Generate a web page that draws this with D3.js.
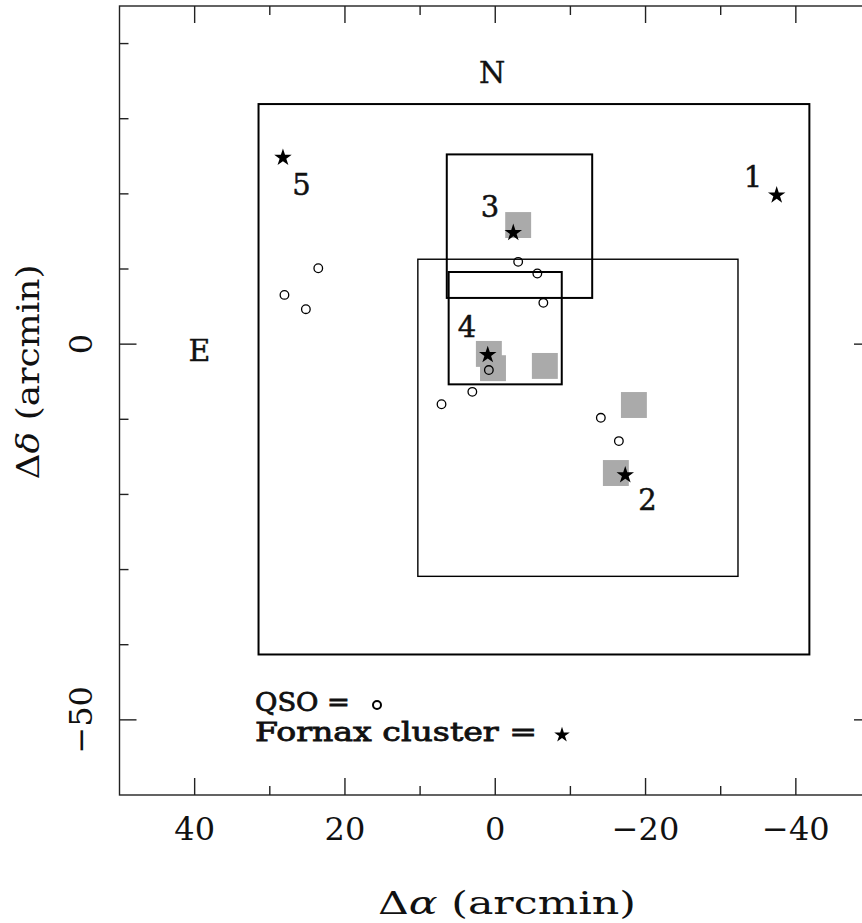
<!DOCTYPE html>
<html>
<head>
<meta charset="utf-8">
<script src="https://cdn.jsdelivr.net/npm/d3@7"></script>
<style>
  html, body { margin: 0; padding: 0; background: #fff; }
  svg { display: block; }
  text { font-family: "DejaVu Serif", "Liberation Serif", serif; fill: #111; }
</style>
</head>
<body>
<svg id="chart" width="862" height="923"></svg>
<script>
// Field layout around the Fornax cluster, offsets in arcmin (RA increases to the left)
const xDomain = [50, -50];
const yDomain = [-60, 45];

// Survey fields: [left RA, right RA, top Dec, bottom Dec], width of outline
const fieldNames = ["outer", "middle", "field3", "field4"];
const fieldX0 = [31.5, 10.3, 6.45, 6.2];
const fieldX1 = [-41.8, -32.3, -12.9, -8.85];
const fieldY0 = [31.95, 11.3, 25.25, 9.6];
const fieldY1 = [-41.3, -30.9, 6.15, -5.35];
const fieldWeight = [2, 1.4, 2, 2];

// Fornax cluster galaxies (stars) and their labels
const galaxyNames = ["1", "2", "3", "4", "5"];
const galaxyRA = [-37.45, -17.3, -2.4, 1.0, 28.25];
const galaxyDec = [19.95, -17.3, 14.95, -1.3, 24.95];
const galaxyLabelRA = [-34.3, -20.25, 0.7, 3.75, 25.8];
const galaxyLabelDec = [20.9, -22.05, 16.9, 0.95, 19.85];

// QSO positions (open circles)
const qsoRA = [23.55, 28.05, 25.2, -3.05, -5.6, -6.4, 0.85, 3.05, 7.15, -14.05, -16.45];
const qsoDec = [10.1, 6.55, 4.65, 10.95, 9.4, 5.5, -3.45, -6.35, -8.0, -9.8, -12.9];

// Shaded pointings (grey squares), side in arcmin
const pointRA = [-3.05, 0.85, 0.3, -6.6, -18.45, -16.05];
const pointDec = [15.85, -1.3, -3.2, -2.9, -8.1, -17.15];
const pointSide = 3.45;

// Axis ticks
const xMajorTicks = [40, 20, 0, -20, -40];
const xMinorTicks = [30, 10, -10, -30];
const yMajorTicks = [0, -50];
const yMinorTicks = [40, 30, 20, 10, -10, -20, -30, -40];

const svg = d3.select("#chart");
const plotLeft = 119.5, plotRight = 871, plotTop = 6, plotBottom = 795;

const x = d3.scaleLinear().domain(xDomain).range([plotLeft, plotRight]);
const y = d3.scaleLinear().domain(yDomain).range([plotBottom, plotTop]);
const fmt = v => (v < 0 ? "\u2212" + Math.abs(v) : String(v));

// Fields
const fields = fieldNames.map((n, i) => ({
  n, x0: fieldX0[i], x1: fieldX1[i], y0: fieldY0[i], y1: fieldY1[i], w: fieldWeight[i]
}));
svg.append("g").selectAll("rect").data(fields).join("rect")
  .attr("x", d => x(d.x0))
  .attr("y", d => y(d.y0))
  .attr("width", d => x(d.x1) - x(d.x0))
  .attr("height", d => y(d.y1) - y(d.y0))
  .attr("fill", "none")
  .attr("stroke", "#000")
  .attr("stroke-width", d => d.w);

// Grey pointings
const side = x(0) - x(pointSide);
svg.append("g").selectAll("rect").data(pointRA.map((r, i) => ({ r, d: pointDec[i] }))).join("rect")
  .attr("x", d => x(d.r) - side / 2)
  .attr("y", d => y(d.d) - side / 2)
  .attr("width", side)
  .attr("height", side)
  .attr("fill", "#aaaaaa");

// QSOs
svg.append("g").selectAll("circle").data(qsoRA.map((r, i) => ({ r, d: qsoDec[i] }))).join("circle")
  .attr("cx", d => x(d.r))
  .attr("cy", d => y(d.d))
  .attr("r", 4.3)
  .attr("fill", "none")
  .attr("stroke", "#000")
  .attr("stroke-width", 1.3);

// Galaxies
const star = d3.symbol().type(d3.symbolStar).size(95);
const galaxies = galaxyNames.map((n, i) => ({
  n, r: galaxyRA[i], d: galaxyDec[i], lr: galaxyLabelRA[i], ld: galaxyLabelDec[i]
}));
svg.append("g").selectAll("path").data(galaxies).join("path")
  .attr("transform", d => `translate(${x(d.r)},${y(d.d) + 1})`)
  .attr("d", star)
  .attr("fill", "#000");
svg.append("g").selectAll("text").data(galaxies).join("text")
  .attr("x", d => x(d.lr))
  .attr("y", d => y(d.ld))
  .attr("text-anchor", "middle")
  .attr("font-size", 29)
  .attr("stroke", "#111").attr("stroke-width", 0.5)
  .text(d => d.n);

// Compass labels
svg.append("text").attr("x", 492).attr("y", 83).attr("text-anchor", "middle")
  .attr("font-size", 30).attr("stroke", "#111").attr("stroke-width", 0.4).text("N");
svg.append("text").attr("x", 199.5).attr("y", 361).attr("text-anchor", "middle")
  .attr("font-size", 30).attr("stroke", "#111").attr("stroke-width", 0.4).text("E");

// Frame and inward ticks on all sides
const frame = svg.append("g").attr("stroke", "#222").attr("stroke-width", 1.4).attr("fill", "none");
frame.append("rect").attr("x", plotLeft).attr("y", plotTop)
  .attr("width", plotRight - plotLeft).attr("height", plotBottom - plotTop);
[[xMajorTicks, 17], [xMinorTicks, 9]].forEach(([ticks, len]) => {
  ticks.forEach(t => {
    frame.append("line").attr("x1", x(t)).attr("x2", x(t)).attr("y1", plotBottom).attr("y2", plotBottom - len);
    frame.append("line").attr("x1", x(t)).attr("x2", x(t)).attr("y1", plotTop).attr("y2", plotTop + len);
  });
});
[[yMajorTicks, 17], [yMinorTicks, 9]].forEach(([ticks, len]) => {
  ticks.forEach(t => {
    frame.append("line").attr("y1", y(t)).attr("y2", y(t)).attr("x1", plotLeft).attr("x2", plotLeft + len);
    frame.append("line").attr("y1", y(t)).attr("y2", y(t)).attr("x1", plotRight).attr("x2", plotRight - len);
  });
});

// Tick labels
svg.append("g").selectAll("text").data(xMajorTicks).join("text")
  .attr("x", d => x(d))
  .attr("y", 840)
  .attr("text-anchor", "middle")
  .attr("font-size", 32)
  .text(fmt);
svg.append("g").selectAll("text").data(yMajorTicks).join("text")
  .attr("transform", d => `translate(92,${y(d)}) rotate(-90)`)
  .attr("text-anchor", "middle")
  .attr("font-size", 32)
  .text(fmt);

// Axis titles
const xt = svg.append("text").attr("x", 507).attr("y", 914).attr("text-anchor", "middle")
  .attr("font-size", 31).attr("textLength", 258).attr("lengthAdjust", "spacingAndGlyphs");
xt.append("tspan").text("\u0394");
xt.append("tspan").attr("font-style", "italic").text("\u03b1");
xt.append("tspan").text("  (arcmin)");

const yt = svg.append("text").attr("transform", "translate(39,372) rotate(-90)")
  .attr("text-anchor", "middle").attr("font-size", 31)
  .attr("textLength", 215).attr("lengthAdjust", "spacingAndGlyphs");
yt.append("tspan").text("\u0394");
yt.append("tspan").attr("font-style", "italic").text("\u03b4");
yt.append("tspan").text("  (arcmin)");

// Legend
svg.append("text").attr("x", 255).attr("y", 711).attr("font-size", 26)
  .attr("stroke", "#111").attr("stroke-width", 0.8)
  .attr("textLength", 95).attr("lengthAdjust", "spacingAndGlyphs").text("QSO =");
svg.append("circle").attr("cx", 377).attr("cy", 705).attr("r", 4)
  .attr("fill", "none").attr("stroke", "#000").attr("stroke-width", 2);
svg.append("text").attr("x", 255).attr("y", 741).attr("font-size", 26)
  .attr("stroke", "#111").attr("stroke-width", 0.8)
  .attr("textLength", 282).attr("lengthAdjust", "spacingAndGlyphs").text("Fornax cluster =");
svg.append("path").attr("transform", "translate(562,735)")
  .attr("d", d3.symbol().type(d3.symbolStar).size(75)).attr("fill", "#000");
</script>
</body>
</html>
